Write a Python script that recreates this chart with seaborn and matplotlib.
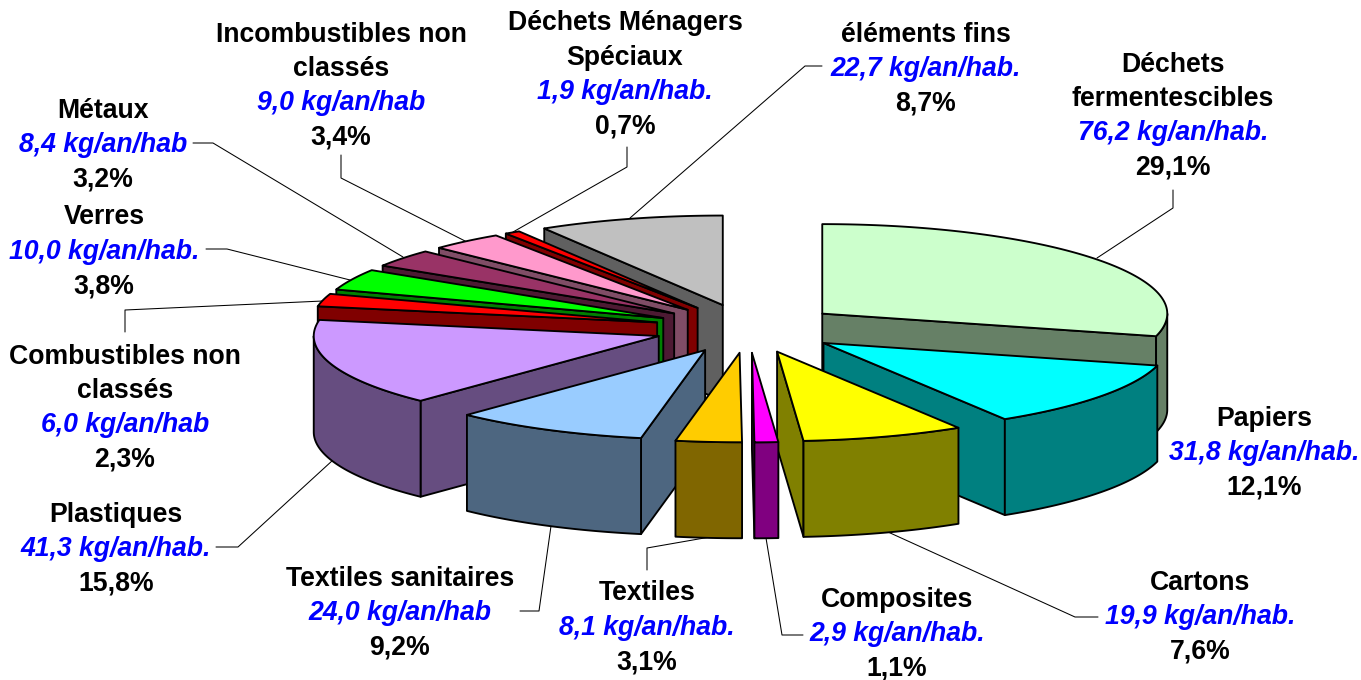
import numpy as np
import matplotlib
matplotlib.use('Agg')
import matplotlib.pyplot as plt
import seaborn as sns

# Données (sens horaire depuis 12 h)
categories = ['Déchets\nfermentescibles', 'Papiers', 'Cartons', 'Composites', 'Textiles',
              'Textiles sanitaires', 'Plastiques', 'Combustibles non\nclassés', 'Verres',
              'Métaux', 'Incombustibles non\nclassés', 'Déchets Ménagers\nSpéciaux', 'éléments fins']
kg_values = [76.2, 31.8, 19.9, 2.9, 8.1, 24.0, 41.3, 6.0, 10.0, 8.4, 9.0, 1.9, 22.7]
kg_labels = ['76,2 kg/an/hab.', '31,8 kg/an/hab.', '19,9 kg/an/hab.', '2,9 kg/an/hab.',
             '8,1 kg/an/hab.', '24,0 kg/an/hab', '41,3 kg/an/hab.', '6,0 kg/an/hab',
             '10,0 kg/an/hab.', '8,4 kg/an/hab', '9,0 kg/an/hab', '1,9 kg/an/hab.',
             '22,7 kg/an/hab.']
pct_labels = ['29,1%', '12,1%', '7,6%', '1,1%', '3,1%', '9,2%', '15,8%', '2,3%', '3,8%',
              '3,2%', '3,4%', '0,7%', '8,7%']
slice_colors = ['#CCFFCC', '#00FFFF', '#FFFF00', '#FF00FF', '#FFCC00', '#99CCFF', '#CC99FF',
                '#FF0000', '#00FF00', '#993366', '#FF99CC', '#FF0000', '#C0C0C0']

# Géométrie du camembert en pixels
CX, CY = 748, 328.5
RX, RY = 345, 89.5
EXPLODE = 0.272
DEPTH = 96

# Position des étiquettes : x du centre, y de la première ligne
label_pos = [(1173, 64.5), (1264, 418.5), (1200, 582.5), (897, 600), (647, 593.5), (400, 578.5),
             (116, 514.5), (125, 356.5), (104, 217.5), (103, 110.5), (341, 34.5), (625, 23.5), (926, 34.5)]
LINE_H = 34.3

# Traits de rappel
leaders = [
    [(1173, 190), (1173, 208), (1097, 258)],
    [(888, 532), (1075, 617), (1098, 617)],
    [(803, 635), (782, 635), (766, 538)],
    [(647, 570), (647, 548), (710, 537)],
    [(520, 611), (539, 611), (551, 526)],
    [(216, 547), (238, 547), (333, 460)],
    [(125, 332), (125, 310), (323, 301)],
    [(206, 249), (227, 249), (350, 280)],
    [(193, 143), (213, 143), (403, 257)],
    [(341, 155), (341, 178), (467, 242)],
    [(627, 147), (627, 167), (513, 232)],
    [(822, 66), (805, 66), (630, 218)],
]

sns.set_theme(style='white')
plt.rcParams['font.family'] = ['Liberation Sans', 'DejaVu Sans']
palette = sns.color_palette(slice_colors)

fig, ax = plt.subplots(figsize=(13.61, 6.8), dpi=100)
fig.subplots_adjust(left=0, right=1, bottom=0, top=1)
ax.set_xlim(0, 1361)
ax.set_ylim(680, 0)
ax.axis('off')

EDGE = dict(edgecolor='black', linewidth=1.35, joinstyle='round')


def rim_point(apex, angle):
    return apex[0] + RX * np.sin(angle), apex[1] - RY * np.cos(angle)


def draw_slice(start, end, color, order):
    mid = (start + end) / 2
    apex = (CX + EXPLODE * RX * np.sin(mid), CY - EXPLODE * RY * np.cos(mid))
    dark = tuple(c * 0.5 for c in color)

    # Faces radiales tournées vers le spectateur
    for angle, visible in ((start, np.sin(start) < 0), (end, np.sin(end) > 0)):
        if visible:
            x, y = rim_point(apex, angle)
            ax.fill([apex[0], x, x, apex[0]], [apex[1], y, y + DEPTH, apex[1] + DEPTH],
                    facecolor=dark, zorder=order, **EDGE)

    # Bord extérieur, seulement la partie avant
    lo, hi = max(start, np.pi / 2), min(end, 3 * np.pi / 2)
    if hi > lo:
        t = np.linspace(lo, hi, 80)
        x, y = rim_point(apex, t)
        ax.fill(np.r_[x, x[::-1]], np.r_[y, y[::-1] + DEPTH], facecolor=dark, zorder=order, **EDGE)

    # Dessus
    t = np.linspace(start, end, 120)
    x, y = rim_point(apex, t)
    ax.fill(np.r_[apex[0], x], np.r_[apex[1], y], facecolor=color, zorder=order, **EDGE)


# Tranches : du fond vers l'avant
edges = np.r_[0, np.cumsum(kg_values)] / sum(kg_values) * 2 * np.pi
apex_y = CY - EXPLODE * RY * np.cos((edges[:-1] + edges[1:]) / 2)
for order, i in enumerate(np.argsort(apex_y)):
    draw_slice(edges[i], edges[i + 1], palette[i], order + 2)

for line in leaders:
    xs, ys = zip(*line)
    ax.plot(xs, ys, color='black', linewidth=0.75, zorder=1)

# Étiquettes : nom, kg/an/hab, pourcentage
for name, kg, pct, (x, y) in zip(categories, kg_labels, pct_labels, label_pos):
    for line in name.split('\n'):
        ax.text(x, y, line, ha='center', va='center', fontsize=19.2, fontweight='bold', color='black')
        y += LINE_H
    ax.text(x, y, kg, ha='center', va='center', fontsize=19.2, fontweight='bold', style='italic', color='#0000FF')
    y += LINE_H
    ax.text(x, y, pct, ha='center', va='center', fontsize=19.2, fontweight='bold', color='black')

fig.savefig('out.png', dpi=100)
